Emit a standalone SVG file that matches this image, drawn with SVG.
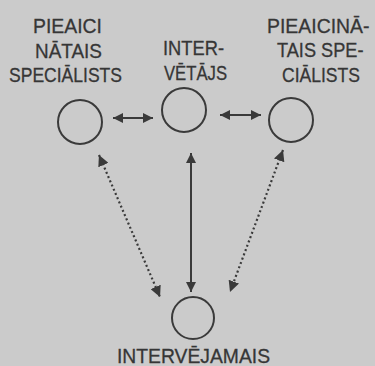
<svg xmlns="http://www.w3.org/2000/svg" width="375" height="366" viewBox="0 0 375 366">
<defs>
<style>
.lbl{font-family:"Liberation Sans","DejaVu Sans",sans-serif;font-size:21px;fill:#363636;stroke:#363636;stroke-width:0.3;}
.node{fill:none;stroke:#3a3a3a;stroke-width:2;}
.solid{stroke:#3a3a3a;stroke-width:2;fill:none;}
.dot{stroke:#3a3a3a;stroke-width:2.2;fill:none;stroke-dasharray:2 2.6;}
</style>
<marker id="ah" viewBox="0 0 10 10" refX="10" refY="5" markerWidth="5" markerHeight="5" orient="auto-start-reverse" markerUnits="strokeWidth">
<path d="M0,0 L10,5 L0,10 Z" fill="#3a3a3a"/>
</marker>
</defs>
<rect width="375" height="366" fill="#cbcbcb"/>
<g id="n-left">
<circle class="node" cx="80" cy="122" r="22"/>
<text class="lbl" x="33" y="33" textLength="69" lengthAdjust="spacingAndGlyphs">PIEAICI</text>
<text class="lbl" x="35" y="58" textLength="67" lengthAdjust="spacingAndGlyphs">NĀTAIS</text>
<text class="lbl" x="9" y="82" textLength="113" lengthAdjust="spacingAndGlyphs">SPECIĀLISTS</text>
</g>
<g id="n-mid">
<circle class="node" cx="184" cy="110" r="22"/>
<text class="lbl" x="163" y="55" textLength="61" lengthAdjust="spacingAndGlyphs">INTER-</text>
<text class="lbl" x="164" y="80" textLength="63" lengthAdjust="spacingAndGlyphs">VĒTĀJS</text>
</g>
<g id="n-right">
<circle class="node" cx="291" cy="120" r="22"/>
<text class="lbl" transform="translate(267 33) scale(0.925 1)">PIEAICINĀ-</text>
<text class="lbl" transform="translate(277 57) scale(0.865 1)">TAIS SPE-</text>
<text class="lbl" x="282" y="82" textLength="78" lengthAdjust="spacingAndGlyphs">CIĀLISTS</text>
</g>
<g id="n-bottom">
<circle class="node" cx="193" cy="318" r="21"/>
<text class="lbl" x="117" y="363" textLength="153" lengthAdjust="spacingAndGlyphs">INTERVĒJAMAIS</text>
</g>
<g id="connectors">
<line class="solid" x1="113" y1="118" x2="153" y2="118" marker-start="url(#ah)" marker-end="url(#ah)"/>
<line class="solid" x1="220" y1="115" x2="261" y2="115" marker-start="url(#ah)" marker-end="url(#ah)"/>
<line class="solid" x1="191" y1="153" x2="191" y2="292" marker-start="url(#ah)" marker-end="url(#ah)"/>
<line class="dot" x1="99" y1="155" x2="160" y2="297" marker-start="url(#ah)" marker-end="url(#ah)"/>
<line class="dot" x1="283" y1="150" x2="230" y2="292" marker-start="url(#ah)" marker-end="url(#ah)"/>
</g>
</svg>
